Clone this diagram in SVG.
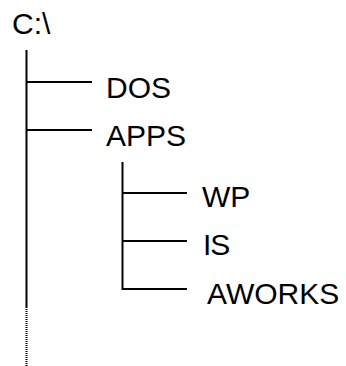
<svg xmlns="http://www.w3.org/2000/svg" width="346" height="366" viewBox="0 0 346 366">
  <style>
    .lbl { font-family: "Liberation Sans", Arial, sans-serif; font-size: 30px; fill: #000; }
    .ln { stroke: #000; stroke-width: 2; fill: none; }
    .dot { stroke: #000; stroke-width: 2; stroke-dasharray: 1 1; fill: none; }
  </style>
  <rect width="346" height="366" fill="#fff"/>
  <g id="connectors">
    <line class="ln" x1="26.5" y1="50" x2="26.5" y2="307"/>
    <line class="dot" x1="26.5" y1="307" x2="26.5" y2="366"/>
    <line class="ln" x1="26.5" y1="82" x2="92" y2="82"/>
    <line class="ln" x1="26.5" y1="130" x2="92" y2="130"/>
    <line class="ln" x1="122.5" y1="162" x2="122.5" y2="290"/>
    <line class="ln" x1="122.5" y1="193" x2="187" y2="193"/>
    <line class="ln" x1="122.5" y1="241" x2="187" y2="241"/>
    <line class="ln" x1="122.5" y1="289" x2="187" y2="289"/>
  </g>
  <g id="root"><text class="lbl" x="12" y="34">C:\</text></g>
  <g id="dos"><text class="lbl" x="106" y="98">DOS</text></g>
  <g id="apps"><text class="lbl" x="106" y="146">APPS</text></g>
  <g id="wp"><text class="lbl" x="202" y="207">WP</text></g>
  <g id="is"><text class="lbl" x="203" y="255" letter-spacing="-1">IS</text></g>
  <g id="aworks"><text class="lbl" x="207" y="304">AWORKS</text></g>
</svg>
